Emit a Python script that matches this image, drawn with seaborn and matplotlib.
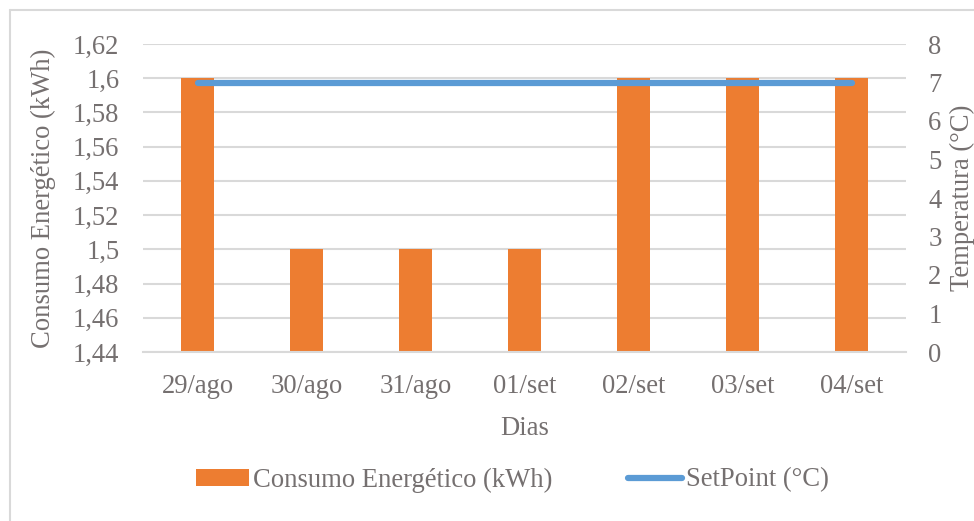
import numpy as np
import pandas as pd
import matplotlib
matplotlib.use("Agg")
import matplotlib.pyplot as plt
from matplotlib.lines import Line2D
from matplotlib.patches import Patch
import seaborn as sns

# Daily data
days = ["29/ago", "30/ago", "31/ago", "01/set", "02/set", "03/set", "04/set"]
consumo_kwh = [1.60, 1.50, 1.50, 1.50, 1.60, 1.60, 1.60]
setpoint_c = [7, 7, 7, 7, 7, 7, 7]

left_ticks = [1.44, 1.46, 1.48, 1.50, 1.52, 1.54, 1.56, 1.58, 1.60, 1.62]
right_ticks = [0, 1, 2, 3, 4, 5, 6, 7, 8]

ORANGE = "#ED7D31"
BLUE = "#5B9BD5"
GRID = "#D9D9D9"
TEXT = "#757070"
FS = 19.2

sns.set_theme(style="white")
plt.rcParams["font.family"] = ["Liberation Serif", "DejaVu Serif"]
plt.rcParams["text.color"] = TEXT
plt.rcParams["axes.labelcolor"] = TEXT
plt.rcParams["xtick.color"] = TEXT
plt.rcParams["ytick.color"] = TEXT

df = pd.DataFrame({"Dia": days, "Consumo": consumo_kwh, "SetPoint": setpoint_c})

fig = plt.figure(figsize=(9.74, 5.21), dpi=100)
ax = fig.add_axes([143 / 974, 1 - 352 / 521, 763 / 974, 308 / 521])

sns.barplot(data=df, x="Dia", y="Consumo", color=ORANGE, width=0.31,
            saturation=1, linewidth=0, ax=ax, zorder=2)
ax.set_ylim(1.44, 1.62)
ax.set_yticks(left_ticks)
ax.set_yticklabels([f"{round(v, 2):g}".replace(".", ",") for v in left_ticks])
ax.set_xlim(-0.5, len(days) - 0.5)
ax.yaxis.grid(True, color=GRID, linewidth=1.5, zorder=0)
ax.set_axisbelow(True)
for side in ["top", "left", "right"]:
    ax.spines[side].set_visible(False)
ax.spines["bottom"].set_color(GRID)
ax.spines["bottom"].set_linewidth(1.5)
ax.tick_params(axis="both", length=0, labelsize=FS)
ax.tick_params(axis="y", pad=17)
ax.tick_params(axis="x", pad=16)
ax.set_xlabel("Dias", fontsize=FS, labelpad=12)
ax.set_ylabel("Consumo Energético (kWh)", fontsize=FS, labelpad=12)

ax2 = ax.twinx()
sns.lineplot(x=np.arange(len(days)), y=setpoint_c, color=BLUE, linewidth=4.5,
             solid_capstyle="round", ax=ax2, zorder=3)
ax2.set_ylim(0, 8)
ax2.set_yticks(right_ticks)
ax2.set_yticklabels([str(v) for v in right_ticks])
ax2.tick_params(axis="y", length=0, labelsize=FS, pad=16)
for side in ["top", "left", "right", "bottom"]:
    ax2.spines[side].set_visible(False)
ax2.set_ylabel("Temperatura (°C)", fontsize=FS, labelpad=6)
ax2.grid(False)

handles = [
    Patch(facecolor=ORANGE, edgecolor="none", label="Consumo Energético (kWh)"),
    Line2D([0], [0], color=BLUE, linewidth=4.5, solid_capstyle="round",
           label="SetPoint (°C)"),
]
fig.legend(handles=handles, loc="center",
           bbox_to_anchor=(0.5 + 25 / 974, 1 - 480 / 521),
           ncol=2, frameon=False, fontsize=FS, handlelength=2.0,
           handleheight=0.6, handletextpad=0.15, columnspacing=2.85)

# Chart area frame (left and top edges)
fig.add_artist(Line2D([10 / 974, 10 / 974], [0, 1 - 10 / 521],
                      transform=fig.transFigure, color=GRID, linewidth=1.5))
fig.add_artist(Line2D([10 / 974, 1], [1 - 10 / 521, 1 - 10 / 521],
                      transform=fig.transFigure, color=GRID, linewidth=1.5))

fig.savefig("out.png", dpi=100, facecolor="white")
